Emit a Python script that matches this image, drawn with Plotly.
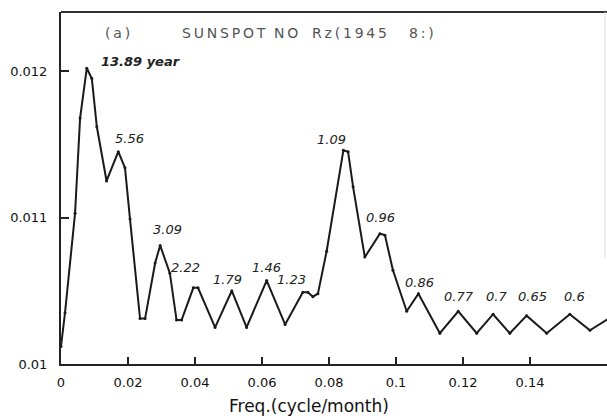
import plotly.graph_objects as go

# Power spectrum of monthly sunspot number Rz
freq = [0.0, 0.0012, 0.0042, 0.0057, 0.0077, 0.0092, 0.0107, 0.0136, 0.0171, 0.0191,
        0.0206, 0.0236, 0.0251, 0.0281, 0.0296, 0.0325, 0.0345, 0.0360, 0.0395, 0.0409,
        0.0460, 0.0510, 0.0554, 0.0614, 0.0669, 0.0722, 0.0737, 0.0752, 0.0767, 0.0793,
        0.0843, 0.0857, 0.0872, 0.0907, 0.0952, 0.0967, 0.0991, 0.1032, 0.1067, 0.1131,
        0.1186, 0.1241, 0.1290, 0.1340, 0.1390, 0.1450, 0.1519, 0.1579, 0.1635]
power = [0.01012, 0.01035, 0.01103, 0.01168, 0.01202, 0.01195, 0.01162, 0.01125, 0.01145, 0.01134,
         0.01099, 0.01031, 0.01031, 0.01069, 0.01081, 0.01062, 0.01030, 0.01030, 0.01052, 0.01052,
         0.01025, 0.01050, 0.01025, 0.01057, 0.01027, 0.01049, 0.01049, 0.01046, 0.01048, 0.01077,
         0.01146, 0.01145, 0.01121, 0.01073, 0.01089, 0.01088, 0.01064, 0.01036, 0.01048, 0.01021,
         0.01036, 0.01021, 0.01034, 0.01021, 0.01033, 0.01021, 0.01034, 0.01023, 0.01031]

# Period annotations (text and centre position in data units)
peak_labels = ["13.89 year", "5.56", "3.09", "2.22", "1.79", "1.46", "1.23",
               "1.09", "0.96", "0.86", "0.77", "0.7", "0.65", "0.6"]
label_x = [0.0239, 0.0203, 0.0318, 0.0372, 0.0496, 0.0612, 0.0688,
           0.0809, 0.0954, 0.1070, 0.1187, 0.1300, 0.1409, 0.1534]
label_y = [0.012066, 0.011539, 0.010917, 0.010657, 0.010575, 0.010657, 0.010575,
           0.011532, 0.010999, 0.010554, 0.010458, 0.010458, 0.010458, 0.010458]

xticks = [0, 0.02, 0.04, 0.06, 0.08, 0.1, 0.12, 0.14]
xtick_text = ["0", "0.02", "0.04", "0.06", "0.08", "0.1", "0.12", "0.14"]
yticks = [0.01, 0.011, 0.012]
ytick_text = ["0.01", "0.011", "0.012"]

PLOT_L, PLOT_T, PLOT_W, PLOT_H = 61, 12, 546, 352


def px(x):
    return (x - PLOT_L) / PLOT_W


def py(y):
    return 1 - (y - PLOT_T) / PLOT_H


def tracked(word):
    # widen letter spacing with thin spaces
    return "\u2009".join(word)


fig = go.Figure()
fig.add_trace(go.Scatter(
    x=freq, y=power, mode="lines+markers",
    line=dict(color="#1a1a1a", width=2),
    marker=dict(size=3, color="#1a1a1a"),
    hoverinfo="skip", showlegend=False,
))

for i, (t, lx, ly) in enumerate(zip(peak_labels, label_x, label_y)):
    first = i == 0
    fig.add_annotation(
        x=lx, y=ly, text=("<b><i>%s</i></b>" % t) if first else "<i>%s</i>" % t,
        showarrow=False, xanchor="center", yanchor="middle",
        font=dict(family="DejaVu Sans", size=13, color="#222"),
    )

# panel heading inside the frame
heading_font = dict(family="DejaVu Sans", size=14, color="#555")
for word, x_left in [("(a)", 103), ("SUNSPOT", 180), ("NO", 272), ("Rz(1945", 310), ("8:)", 407)]:
    fig.add_annotation(x=px(x_left), y=py(33), xref="paper", yref="paper",
                       text=tracked(word), showarrow=False, xanchor="left", yanchor="middle",
                       font=heading_font)

# x-axis title
fig.add_annotation(x=px(309), y=py(406), xref="paper", yref="paper",
                   text="Freq.(cycle/month)", showarrow=False,
                   xanchor="center", yanchor="middle",
                   font=dict(family="DejaVu Sans", size=17, color="#111"))

# top frame line and faint right edge
fig.add_shape(type="line", xref="paper", yref="paper", x0=0, x1=1, y0=1, y1=1,
              line=dict(color="#333", width=2))
fig.add_shape(type="line", xref="paper", yref="paper", x0=px(605), x1=px(605), y0=0.3, y1=1,
              line=dict(color="#ddd", width=1))

axis_font = dict(family="DejaVu Sans", size=13, color="#111")
fig.update_xaxes(
    range=[0, 0.163], tickvals=xticks, ticktext=xtick_text,
    ticks="inside", ticklen=7, tickwidth=1.5, tickcolor="#222",
    showline=True, linecolor="#222", linewidth=2, showgrid=False, zeroline=False,
    tickfont=axis_font, ticklabelstandoff=5,
)
fig.update_yaxes(
    range=[0.01, 0.012404], tickvals=yticks, ticktext=ytick_text,
    ticks="inside", ticklen=8, tickwidth=1.5, tickcolor="#222",
    showline=True, linecolor="#222", linewidth=2, showgrid=False, zeroline=False,
    tickfont=axis_font, ticklabelstandoff=9,
)
fig.update_layout(
    width=607, height=420,
    margin=dict(l=PLOT_L, r=0, t=PLOT_T, b=420 - PLOT_T - PLOT_H),
    paper_bgcolor="white", plot_bgcolor="white",
)

fig.write_html("out.html")
